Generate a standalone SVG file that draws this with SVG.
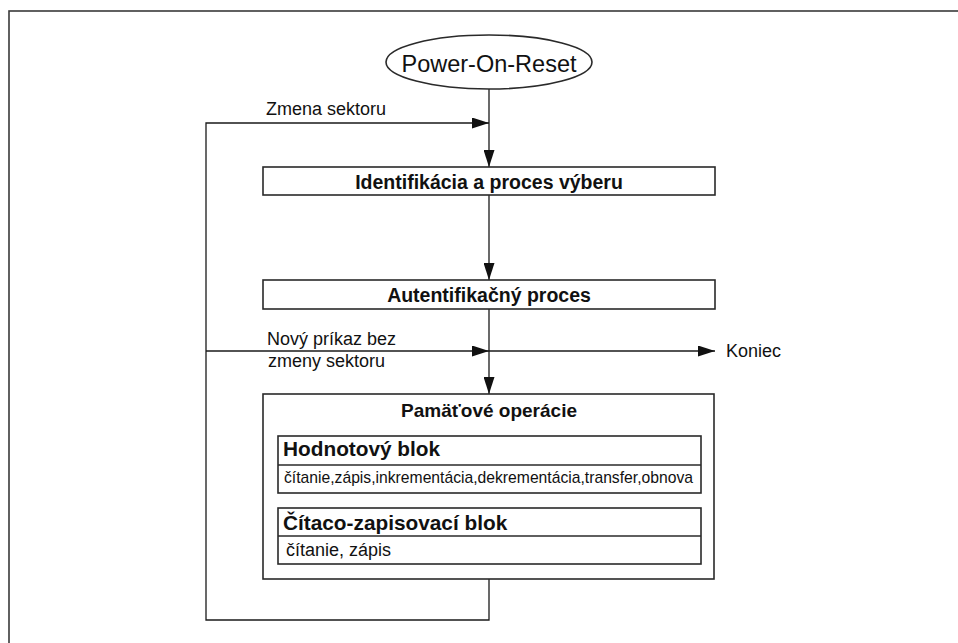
<svg xmlns="http://www.w3.org/2000/svg" width="958" height="643" viewBox="0 0 958 643">
<style>
.frame{fill:none;stroke:#3a3a3a;stroke-width:1.6}
.box{fill:#fff;stroke:#2a2a2a;stroke-width:1.6}
.ln{fill:none;stroke:#1a1a1a;stroke-width:1.3}
text{font-family:"Liberation Sans",Arial,sans-serif;fill:#111}
.b{font-weight:bold}
.c{text-anchor:middle}
</style>
<defs>
<marker id="ah" viewBox="0 0 17 11" refX="17" refY="5.5" markerWidth="17" markerHeight="11" markerUnits="userSpaceOnUse" orient="auto">
<path d="M0,0 L17,5.5 L0,11 Z" fill="#111"/>
</marker>
</defs>
<rect width="958" height="643" fill="#fff"/>
<rect class="frame" x="9" y="11" width="960" height="650"/>

<g id="connectors">
<line class="ln" x1="489" y1="89" x2="489" y2="167" marker-end="url(#ah)"/>
<line class="ln" x1="489" y1="195" x2="489" y2="280" marker-end="url(#ah)"/>
<line class="ln" x1="489" y1="309" x2="489" y2="394" marker-end="url(#ah)"/>
<polyline class="ln" points="489,579 489,620 206,620 206,123 489,123" marker-end="url(#ah)"/>
<line class="ln" x1="206" y1="351" x2="489" y2="351" marker-end="url(#ah)"/>
<line class="ln" x1="489" y1="351" x2="715" y2="351" marker-end="url(#ah)"/>
<text x="266" y="115" font-size="18">Zmena sektoru</text>
<text x="267" y="345" font-size="18">Nový príkaz bez</text>
<text x="268" y="367" font-size="18">zmeny sektoru</text>
<text x="726" y="357" font-size="18">Koniec</text>
</g>

<g id="start">
<ellipse class="box" cx="489" cy="62" rx="103" ry="27"/>
<text class="c" x="489" y="72" font-size="23.5">Power-On-Reset</text>
</g>

<g id="identifikacia">
<rect class="box" x="263" y="167" width="452" height="28"/>
<text class="c b" x="489" y="189" font-size="19.5">Identifikácia a proces výberu</text>
</g>

<g id="autentifikacia">
<rect class="box" x="263" y="280" width="452" height="29"/>
<text class="c b" x="489" y="302" font-size="19.5">Autentifikačný proces</text>
</g>

<g id="pamatove">
<rect class="box" x="263" y="394" width="451" height="185"/>
<text class="c b" x="489" y="417" font-size="19">Pamäťové operácie</text>
</g>

<g id="hodnotovy">
<rect class="box" x="278" y="436" width="423" height="57"/>
<line class="box" x1="278" y1="465" x2="701" y2="465"/>
<text class="b" x="283" y="456" font-size="20.8">Hodnotový blok</text>
<text x="284" y="483" font-size="15.7">čítanie,zápis,inkrementácia,dekrementácia,transfer,obnova</text>
</g>

<g id="citaco">
<rect class="box" x="278" y="508" width="423" height="56"/>
<line class="box" x1="278" y1="536" x2="701" y2="536"/>
<text class="b" x="283" y="530" font-size="20.8">Čítaco-zapisovací blok</text>
<text x="286" y="556" font-size="18">čítanie, zápis</text>
</g>
</svg>
